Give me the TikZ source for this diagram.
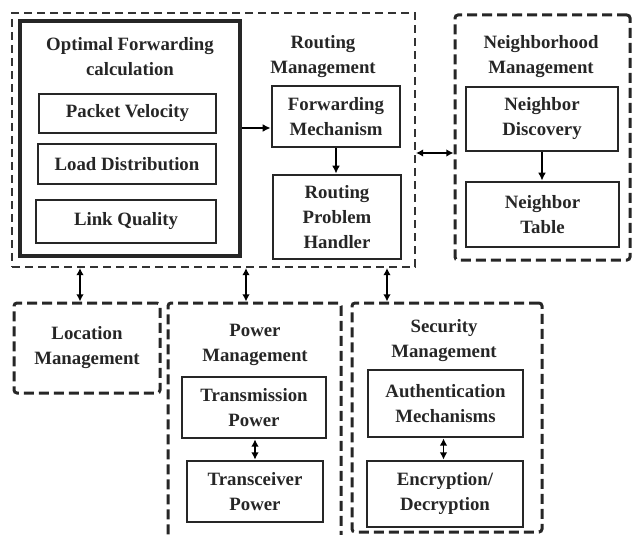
\documentclass[tikz,border=0pt]{standalone}
\usepackage{fontspec}
\setmainfont{Liberation Serif}
\usepackage{tikz}
\usetikzlibrary{arrows.meta}
\tikzstyle{group} = [rectangle, draw=black!85, line width=1.5pt, dash pattern=on 5pt off 2.5pt, rounded corners=1.5pt]
\tikzstyle{outer} = [rectangle, draw=black!80, line width=1pt, dash pattern=on 4pt off 2.5pt]
\tikzstyle{block} = [rectangle, draw=black!85, line width=1.4pt, align=center, inner sep=1pt]
\tikzstyle{title} = [align=center, inner sep=0pt]
\tikzstyle{arrow} = [line width=0.8pt, ->, >={Latex[length=4pt,width=4pt]}]
\tikzstyle{darrow} = [line width=0.8pt, <->, >={Latex[length=3.6pt,width=3.8pt]}]

\begin{document}
\begin{tikzpicture}[x=0.5pt, y=-0.5pt, font=\fontsize{9.4}{12.5}\selectfont\bfseries, text=black!85]
	\useasboundingbox (0,0) rectangle (632,535);
	
	\node (rout) [outer, minimum width=201.5pt, minimum height=127pt] at (213.5,140) {};
	\node (opt) [block, line width=1.6pt, minimum width=110pt, minimum height=117.5pt] at (130,138.5) {};
	\node (optt) [title] at (130,57) {Optimal Forwarding\\calculation};
	\node (pv) [block, minimum width=88.5pt, minimum height=19.5pt] at (127.5,113.5) {Packet Velocity};
	\node (ld) [block, minimum width=89pt, minimum height=20pt] at (127,164) {Load Distribution};
	\node (lq) [block, minimum width=90pt, minimum height=21.5pt] at (126,221.5) {Link Quality};
	
	\node (routt) [title] at (323,57) {Routing\\Management};
	\node (fm) [block, minimum width=64pt, minimum height=30.5pt] at (336,116.5) {Forwarding\\Mechanism};
	\node (rph) [block, minimum width=64pt, minimum height=42pt] at (337,217) {Routing\\Problem\\Handler};
	
	\draw [arrow] ([yshift=-5.75pt]fm.west -| opt.east) -- ([yshift=-5.75pt]fm.west);
	\draw [arrow] (fm.south) -- (fm.south |- rph.north);
	
	\node (nbr) [group, minimum width=87.5pt, minimum height=122.5pt] at (542.5,137.5) {};
	\node (nbrt) [title] at (541,57) {Neighborhood\\Management};
	\node (nd) [block, minimum width=76pt, minimum height=32pt] at (542,119) {Neighbor\\Discovery};
	\node (nt) [block, minimum width=76.5pt, minimum height=32.5pt] at (542.5,214.5) {Neighbor\\Table};
	
	\draw [arrow] (nd.south) -- (nd.south |- nt.north);
	\draw [darrow] ([yshift=-6.5pt]rout.east) -- ([yshift=-6.5pt]rout.east -| nbr.west);
	
	\node (loc) [group, align=center, minimum width=73pt, minimum height=45pt] at (87,348) {Location\\Management};
	
	\node (pow) [group, minimum width=86.5pt, minimum height=121pt] at (254.5,424) {};
	\node (powt) [title] at (255,345) {Power\\Management};
	\node (tp) [block, minimum width=72pt, minimum height=30.5pt] at (254,407.5) {Transmission\\Power};
	\node (tcp) [block, minimum width=68pt, minimum height=30.5pt] at (255,491.5) {Transceiver\\Power};
	
	\draw [darrow] (tp.south -| tcp.north) -- (tcp.north);
	
	\node (sec) [group, minimum width=95pt, minimum height=114.5pt] at (447,417.5) {};
	\node (sect) [title] at (444,341) {Security\\Management};
	\node (am) [block, minimum width=77.5pt, minimum height=33.5pt] at (445.5,403.5) {Authentication\\Mechanisms};
	\node (ed) [block, minimum width=78pt, minimum height=33pt] at (445,494) {Encryption/\\Decryption};
	
	\draw [darrow] ([xshift=-1pt]am.south) -- ([xshift=-1pt]am.south |- ed.north);
	
	\draw [darrow] ([xshift=-3.5pt]loc.north |- rout.south) -- ([xshift=-3.5pt]loc.north);
	\draw [darrow] ([xshift=-4.25pt]pow.north |- rout.south) -- ([xshift=-4.25pt]pow.north);
	\draw [darrow] ([xshift=-30pt]sec.north |- rout.south) -- ([xshift=-30pt]sec.north);
	
\end{tikzpicture}
\end{document}
